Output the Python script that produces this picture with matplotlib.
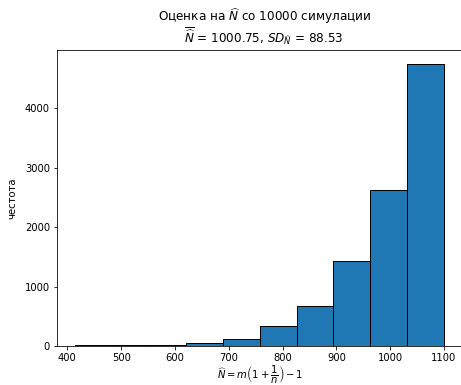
import matplotlib
matplotlib.use('Agg')
import matplotlib.pyplot as plt
import numpy as np

# bin edges and counts
bin_edges = [415, 483.5, 552, 620.5, 689, 757.5, 826, 894.5, 963, 1031.5, 1100]
counts = [10, 9, 15, 45, 118, 335, 678, 1435, 2615, 4740]

mean_N = 1000.75
sd_N = 88.53
n_sims = 10000

fig = plt.figure(figsize=(461 / 72, 385 / 72), dpi=72)
ax = fig.add_axes([57 / 461, 39 / 385, 405.4 / 461, 296 / 385])

edges = np.array(bin_edges)
centers = (edges[:-1] + edges[1:]) / 2
ax.hist(centers, bins=edges, weights=counts, edgecolor='black')

title = ax.set_title('Оценка на $\\widehat{N}$ со %d симулации\n'
                     '$\\overline{\\widehat{N}}$ = %.2f, $SD_{\\widehat{N}}$ = %.2f'
                     % (n_sims, mean_N, sd_N), pad=7, linespacing=1.0)
title.set_x(0.511)
ax.set_xlabel(r'$\widehat{N} = m\left(1 + \dfrac{1}{n}\right) - 1$', labelpad=0)
ax.set_ylabel('честота', labelpad=8)

fig.savefig('out.png', dpi=72)
